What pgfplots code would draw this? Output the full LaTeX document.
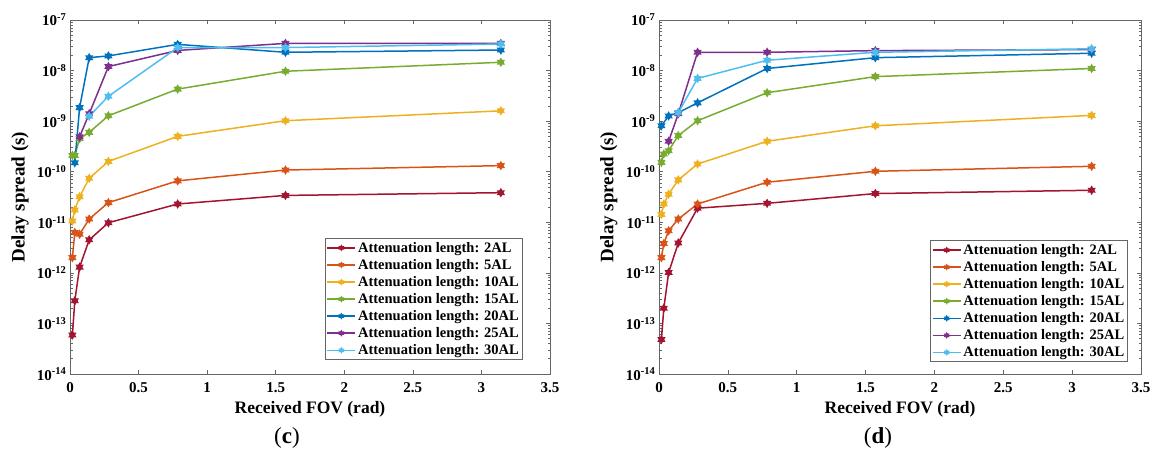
\documentclass[border=0pt]{standalone}
\usepackage{fontspec}
\setmainfont{Liberation Serif}
\usepackage{pgfplots}
\pgfplotsset{compat=1.18}

% MATLAB default line colours
\definecolor{c2}{rgb}{0.635,0.078,0.184}
\definecolor{c5}{rgb}{0.850,0.325,0.098}
\definecolor{c10}{rgb}{0.929,0.694,0.125}
\definecolor{c15}{rgb}{0.466,0.674,0.188}
\definecolor{c20}{rgb}{0.000,0.447,0.741}
\definecolor{c25}{rgb}{0.494,0.184,0.556}
\definecolor{c30}{rgb}{0.301,0.745,0.933}

% filled hexagram, like MATLAB's 'h' marker
\pgfdeclareplotmark{hexa}{%
  \pgfpathmoveto{\pgfqpointpolar{90}{\pgfplotmarksize}}%
  \pgfpathlineto{\pgfqpointpolar{210}{\pgfplotmarksize}}%
  \pgfpathlineto{\pgfqpointpolar{330}{\pgfplotmarksize}}%
  \pgfpathclose
  \pgfpathmoveto{\pgfqpointpolar{270}{\pgfplotmarksize}}%
  \pgfpathlineto{\pgfqpointpolar{30}{\pgfplotmarksize}}%
  \pgfpathlineto{\pgfqpointpolar{150}{\pgfplotmarksize}}%
  \pgfpathclose
  \pgfusepathqfillstroke}

\pgfplotsset{
  every axis/.append style={
    scale only axis, height=354pt,
    xtick={0,0.5,1,1.5,2,2.5,3,3.5},
    xticklabels={0,0.5,1,1.5,2,2.5,3,3.5},
    tick align=inside, major tick length=4pt, minor tick length=2.5pt,
    axis line style={black!60, line width=0.8pt},
    tick style={black!60, line width=0.6pt},
    ticklabel style={font=\fontsize{15}{15}\selectfont\bfseries},
    xticklabel style={yshift=-5pt},
    xlabel style={font=\fontsize{17.5}{18}\selectfont\bfseries,
      at={(axis description cs:0.5,-0.099)}, anchor=center},
    ylabel style={font=\fontsize{19}{19}\selectfont\bfseries,
      at={(axis description cs:-0.104,0.5)}, anchor=center},
    legend cell align=left,
    legend style={anchor=south east, draw=black!60, line width=0.6pt, fill=white,
      font=\fontsize{14.5}{14.5}\selectfont\bfseries, inner sep=1.5pt, row sep=1.5pt},
  },
  every axis plot/.append style={line width=1.5pt, mark=hexa, mark size=3.3pt},
  legend image code/.code={\draw[mark repeat=2, mark phase=2, #1, mark options={scale=0.6}]
    plot coordinates {(0pt,0pt) (14pt,0pt) (28pt,0pt)};},
}

\begin{document}
\begin{tikzpicture}
\useasboundingbox (0,0) rectangle (1151pt,453pt);

% ---- panel (c)
\begin{axis}[at={(70pt,79pt)}, anchor=south west, width=480pt,
  xmin=0, xmax=3.5, ymode=log, ymin=1e-14, ymax=1e-7,
  ytick={1e-14,1e-13,1e-12,1e-11,1e-10,1e-9,1e-8,1e-7},
  yticklabels={10\textsuperscript{-14},10\textsuperscript{-13},10\textsuperscript{-12},
    10\textsuperscript{-11},10\textsuperscript{-10},10\textsuperscript{-9},
    10\textsuperscript{-8},10\textsuperscript{-7}},
  xlabel={Received FOV (rad)}, ylabel={Delay spread (s)},
  legend style={at={(0.943,0.04)}}]
\addplot[c2] coordinates {(0.0175,5.9e-14) (0.035,2.8e-13) (0.07,1.3e-12) (0.14,4.5e-12)
  (0.28,9.8e-12) (0.785,2.3e-11) (1.571,3.4e-11) (3.1416,3.85e-11)};
\addplot[c5] coordinates {(0.0175,2.0e-12) (0.035,6.3e-12) (0.07,5.8e-12) (0.14,1.16e-11)
  (0.28,2.45e-11) (0.785,6.6e-11) (1.571,1.08e-10) (3.1416,1.32e-10)};
\addplot[c10] coordinates {(0.0175,1.06e-11) (0.035,1.75e-11) (0.07,3.2e-11) (0.14,7.4e-11)
  (0.28,1.6e-10) (0.785,5.0e-10) (1.571,1.02e-9) (3.1416,1.6e-9)};
\addplot[c15] coordinates {(0.0175,2.1e-10) (0.035,2.1e-10) (0.07,4.5e-10) (0.14,6.0e-10)
  (0.28,1.28e-9) (0.785,4.3e-9) (1.571,9.7e-9) (3.1416,1.46e-8)};
\addplot[c20] coordinates {(0.035,1.5e-10) (0.07,1.85e-9) (0.14,1.8e-8)
  (0.28,1.95e-8) (0.785,3.3e-8) (1.571,2.3e-8) (3.1416,2.55e-8)};
\addplot[c25] coordinates {(0.07,4.9e-10) (0.14,1.4e-9)
  (0.28,1.2e-8) (0.785,2.5e-8) (1.571,3.45e-8) (3.1416,3.45e-8)};
\addplot[c30] coordinates {(0.14,1.25e-9)
  (0.28,3.1e-9) (0.785,2.85e-8) (1.571,2.85e-8) (3.1416,3.35e-8)};
\legend{Attenuation length: 2AL, Attenuation length: 5AL, Attenuation length: 10AL,
  Attenuation length: 15AL, Attenuation length: 20AL, Attenuation length: 25AL,
  Attenuation length: 30AL}
\end{axis}

% ---- panel (d)
\begin{axis}[at={(659pt,79pt)}, anchor=south west, width=482pt,
  xmin=0, xmax=3.5, ymode=log, ymin=1e-14, ymax=1e-7,
  ytick={1e-14,1e-13,1e-12,1e-11,1e-10,1e-9,1e-8,1e-7},
  yticklabels={10\textsuperscript{-14},10\textsuperscript{-13},10\textsuperscript{-12},
    10\textsuperscript{-11},10\textsuperscript{-10},10\textsuperscript{-9},
    10\textsuperscript{-8},10\textsuperscript{-7}},
  xlabel={Received FOV (rad)}, ylabel={Delay spread (s)},
  legend style={at={(0.973,0.034)}}]
\addplot[c2] coordinates {(0.0175,4.8e-14) (0.035,2.0e-13) (0.07,1.02e-12) (0.14,3.9e-12)
  (0.28,1.9e-11) (0.785,2.37e-11) (1.571,3.7e-11) (3.1416,4.3e-11)};
\addplot[c5] coordinates {(0.0175,2.0e-12) (0.035,3.8e-12) (0.07,6.8e-12) (0.14,1.16e-11)
  (0.28,2.3e-11) (0.785,6.2e-11) (1.571,1.02e-10) (3.1416,1.28e-10)};
\addplot[c10] coordinates {(0.0175,1.43e-11) (0.035,2.3e-11) (0.07,3.6e-11) (0.14,6.9e-11)
  (0.28,1.42e-10) (0.785,4.0e-10) (1.571,8.1e-10) (3.1416,1.3e-9)};
\addplot[c15] coordinates {(0.0175,1.53e-10) (0.035,2.24e-10) (0.07,2.6e-10) (0.14,5.2e-10)
  (0.28,1.02e-9) (0.785,3.65e-9) (1.571,7.6e-9) (3.1416,1.1e-8)};
\addplot[c20] coordinates {(0.0175,8.1e-10) (0.07,1.27e-9) (0.14,1.47e-9)
  (0.28,2.3e-9) (0.785,1.1e-8) (1.571,1.8e-8) (3.1416,2.2e-8)};
\addplot[c25] coordinates {(0.07,4.0e-10) (0.14,1.4e-9)
  (0.28,2.3e-8) (0.785,2.3e-8) (1.571,2.48e-8) (3.1416,2.6e-8)};
\addplot[c30] coordinates {(0.14,1.47e-9)
  (0.28,7.0e-9) (0.785,1.6e-8) (1.571,2.3e-8) (3.1416,2.7e-8)};
\legend{Attenuation length: 2AL, Attenuation length: 5AL, Attenuation length: 10AL,
  Attenuation length: 15AL, Attenuation length: 20AL, Attenuation length: 25AL,
  Attenuation length: 30AL}
\end{axis}

\node[font=\fontsize{23}{23}\selectfont] at (287pt,15pt) {(\textbf{c})};
\node[font=\fontsize{23}{23}\selectfont] at (878pt,15pt) {(\textbf{d})};
\end{tikzpicture}
\end{document}
